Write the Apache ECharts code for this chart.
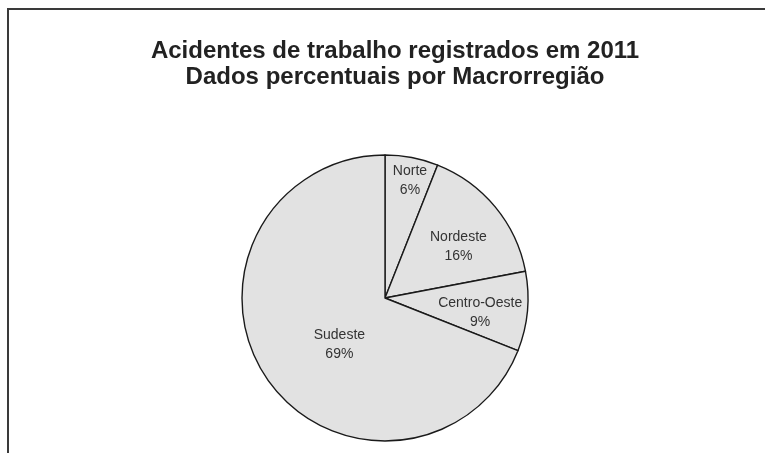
<!DOCTYPE html>
<html>
<head>
<meta charset="utf-8">
<script src="https://cdn.jsdelivr.net/npm/echarts@6/dist/echarts.min.js"></script>
<style>
  html, body { margin: 0; padding: 0; background: #fff; }
  #chart { width: 765px; height: 453px; }
</style>
</head>
<body>
<div id="chart"></div>
<script>
// regioes e percentuais (sentido horario a partir do topo)
var regioes = ["Norte", "Nordeste", "Centro-Oeste", "Sudeste"];
var percentuais = [6, 16, 9, 69];
// deslocamento dos rotulos em relacao ao meio da fatia
var rotuloDx = [11, 16, 21, 16];
var rotuloDy = [-44, -4, 8, 5];

var chart = echarts.init(document.getElementById("chart"));

var dados = [];
for (var i = 0; i < regioes.length; i++) {
  dados.push({ name: regioes[i], value: percentuais[i] });
}

var option = {
  backgroundColor: "#fff",
  animation: false,
  title: {
    text: "Acidentes de trabalho registrados em 2011\nDados percentuais por Macrorregião",
    left: 390,
    top: 33,
    textAlign: "center",
    textStyle: {
      fontFamily: "Liberation Sans",
      fontSize: 24,
      fontWeight: "bold",
      color: "#222",
      lineHeight: 26
    }
  },
  graphic: [
    {
      type: "polyline",
      shape: { points: [[8, 460], [8, 9], [770, 9]] },
      style: { stroke: "#3a3a3a", lineWidth: 2, fill: null }
    }
  ],
  series: [
    {
      type: "pie",
      center: [385, 298],
      radius: 143,
      startAngle: 90,
      clockwise: true,
      itemStyle: {
        color: "#e2e2e2",
        borderColor: "#1a1a1a",
        borderWidth: 1.4
      },
      label: {
        show: true,
        position: "inside",
        formatter: "{b}\n{c}%",
        fontFamily: "Liberation Sans",
        fontSize: 14,
        lineHeight: 19,
        color: "#333"
      },
      labelLayout: function (params) {
        return { dx: rotuloDx[params.dataIndex], dy: rotuloDy[params.dataIndex] };
      },
      emphasis: { disabled: true },
      data: dados
    }
  ]
};

chart.setOption(option);
</script>
</body>
</html>
